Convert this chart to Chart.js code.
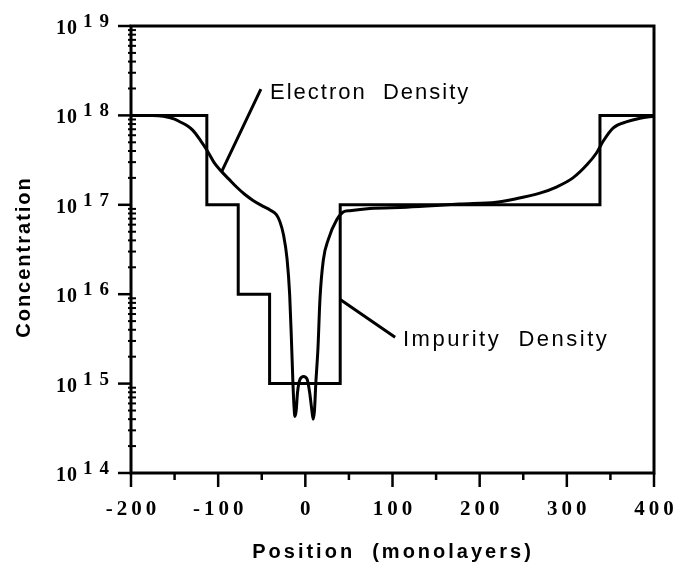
<!DOCTYPE html>
<html lang="en">
<head>
<meta charset="UTF-8">
<title>Concentration profile</title>
<script src="https://cdn.jsdelivr.net/npm/chart.js"></script>
<style>
    html, body { margin: 0; padding: 0; background: #fff; }
    .chart-box { width: 681px; height: 573px; position: relative; }
</style>
</head>
<body>
<div class="chart-box"><canvas id="profileChart"></canvas></div>
<script>
    // impurity density, step profile (value changes at each x)
    const impurityX = [-200, -113, -77, -41, 40, 338, 400];
    const impurityY = [1e18, 1e17, 1e16, 1e15, 1e17, 1e18, 1e18];

    // electron density
    const electronX = [-200, -175, -163, -150, -144, -135, -129, -120, -113, -104,
        -96, -88, -78, -70, -60, -50, -40, -33, -29, -25,
        -21, -18, -16, -14.2, -13, -12, -10.5, -9, -6, -2,
        2, 5, 7.5, 9, 10.5, 12, 14.5, 16.8, 20.6, 26.4,
        36, 43.5, 51, 74, 116, 150, 177, 219, 242, 269,
        288, 307, 323, 334, 342, 353, 369, 384, 400];
    const electronY = [1.0e18, 1.0e18, 9.8e17, 9.1e17, 8.5e17, 7.6e17, 6.8e17, 5.2e17, 4.1e17, 2.9e17,
        2.35e17, 1.95e17, 1.55e17, 1.32e17, 1.12e17, 9.8e16, 8.7e16, 7.7e16, 6.4e16, 4.6e16,
        2.5e16, 1.0e16, 3.2e15, 1.0e15, 5.6e14, 4.3e14, 5.0e14, 7.9e14, 1.12e15, 1.2e15,
        1.12e15, 7.9e14, 5.0e14, 4.0e14, 5.0e14, 1.0e15, 2.5e15, 8.9e15, 2.4e16, 4.1e16,
        6.8e16, 8.3e16, 8.6e16, 9.1e16, 9.4e16, 9.8e16, 1.02e17, 1.07e17, 1.17e17, 1.35e17,
        1.58e17, 2.0e17, 2.8e17, 3.8e17, 5.2e17, 7.2e17, 8.5e17, 9.3e17, 9.8e17];

    // ticks
    const xTickValues = [-200, -100, 0, 100, 200, 300, 400];
    const xTickLabels = ['-200', '-100', '0', '100', '200', '300', '400'];
    const yExponents = [14, 15, 16, 17, 18, 19];

    const xTitle = 'Position  (monolayers)';
    const yTitle = 'Concentration';

    const SANS = '"Liberation Sans", Arial, sans-serif';
    const SERIF = '"Liberation Serif", "Times New Roman", serif';

    // text with extra letter spacing, drawn char by char
    function spacedText(ctx, text, x, y, spacing, align) {
        const chars = [...text];
        const widths = chars.map(c => ctx.measureText(c).width);
        const total = widths.reduce((a, b) => a + b, 0) + spacing * (chars.length - 1);
        let cx = x;
        if (align === 'center') cx = x - total / 2;
        else if (align === 'right') cx = x - total;
        ctx.textAlign = 'left';
        chars.forEach((c, i) => {
            ctx.fillText(c, cx, y);
            cx += widths[i] + spacing;
        });
    }

    const axesPlugin = {
        id: 'oldStyleAxes',
        afterDraw(chart) {
            const ctx = chart.ctx;
            const area = chart.chartArea;
            const xs = chart.scales.x;
            const ys = chart.scales.y;
            ctx.save();
            ctx.strokeStyle = '#000';
            ctx.fillStyle = '#000';
            ctx.lineCap = 'butt';

            // frame
            ctx.lineWidth = 3;
            ctx.strokeRect(area.left, area.top, area.right - area.left, area.bottom - area.top);

            // x ticks, major every 100, minor every 50
            ctx.lineWidth = 2.5;
            for (let v = -200; v <= 400; v += 50) {
                const px = xs.getPixelForValue(v);
                const len = v % 100 === 0 ? 14 : 7;
                ctx.beginPath();
                ctx.moveTo(px, area.bottom);
                ctx.lineTo(px, area.bottom + len);
                ctx.stroke();
            }

            // y ticks, decades plus 2..9 minors
            yExponents.forEach(e => {
                const py = ys.getPixelForValue(Math.pow(10, e));
                ctx.lineWidth = 2.5;
                ctx.beginPath();
                ctx.moveTo(area.left - 13, py);
                ctx.lineTo(area.left, py);
                ctx.stroke();
                if (e === yExponents[yExponents.length - 1]) return;
                ctx.lineWidth = 2;
                for (let m = 2; m <= 9; m++) {
                    const pm = ys.getPixelForValue(m * Math.pow(10, e));
                    ctx.beginPath();
                    ctx.moveTo(area.left - 3, pm);
                    ctx.lineTo(area.left + 5, pm);
                    ctx.stroke();
                }
            });

            // y labels: 10 with raised exponent
            ctx.textBaseline = 'alphabetic';
            yExponents.forEach(e => {
                const py = ys.getPixelForValue(Math.pow(10, e));
                ctx.font = 'bold 20px ' + SERIF;
                spacedText(ctx, '10', 77, py + 8, 1, 'right');
                ctx.font = 'bold 19px ' + SERIF;
                spacedText(ctx, String(e), 83, py + 1, 7, 'left');
            });

            // x labels
            ctx.font = 'bold 21px ' + SERIF;
            xTickValues.forEach((v, i) => {
                const px = xs.getPixelForValue(v);
                spacedText(ctx, xTickLabels[i], px, 515, 4, 'center');
            });

            // axis titles
            ctx.font = 'bold 20px ' + SANS;
            ctx.textBaseline = 'middle';
            spacedText(ctx, xTitle, (area.left + area.right) / 2 - 1, 552, 3, 'center');
            ctx.save();
            ctx.translate(24, 258);
            ctx.rotate(-Math.PI / 2);
            spacedText(ctx, yTitle, 0, 0, 2, 'center');
            ctx.restore();

            // annotations with leader lines
            ctx.lineWidth = 3;
            ctx.beginPath();
            ctx.moveTo(xs.getPixelForValue(-51), ys.getPixelForValue(1.97e18));
            ctx.lineTo(xs.getPixelForValue(-96), ys.getPixelForValue(2.35e17));
            ctx.moveTo(xs.getPixelForValue(40), ys.getPixelForValue(8.7e15));
            ctx.lineTo(xs.getPixelForValue(103), ys.getPixelForValue(3.3e15));
            ctx.stroke();

            ctx.font = '22px ' + SANS;
            spacedText(ctx, 'Electron  Density', xs.getPixelForValue(-40.5), ys.getPixelForValue(1.78e18), 2, 'left');
            spacedText(ctx, 'Impurity  Density', xs.getPixelForValue(112), ys.getPixelForValue(3.1e15), 2.5, 'left');

            ctx.restore();
        }
    };

    const ctx = document.getElementById('profileChart').getContext('2d');
    new Chart(ctx, {
        type: 'line',
        data: {
            datasets: [{
                label: 'Impurity Density',
                data: impurityX.map((x, i) => ({ x: x, y: impurityY[i] })),
                stepped: 'before',
                borderColor: '#000',
                borderWidth: 3,
                pointRadius: 0,
                fill: false
            }, {
                label: 'Electron Density',
                data: electronX.map((x, i) => ({ x: x, y: electronY[i] })),
                cubicInterpolationMode: 'monotone',
                borderColor: '#000',
                borderWidth: 3,
                pointRadius: 0,
                fill: false
            }]
        },
        options: {
            responsive: true,
            maintainAspectRatio: false,
            animation: false,
            events: [],
            layout: { padding: { left: 131, right: 27, top: 26, bottom: 100 } },
            scales: {
                x: { type: 'linear', display: false, min: -200, max: 400 },
                y: { type: 'logarithmic', display: false, min: 1e14, max: 1e19 }
            },
            plugins: {
                legend: { display: false },
                tooltip: { enabled: false }
            }
        },
        plugins: [axesPlugin]
    });
</script>
</body>
</html>
